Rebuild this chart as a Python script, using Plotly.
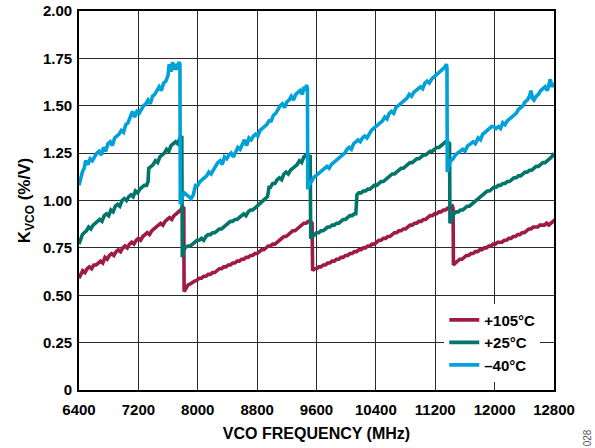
import plotly.graph_objects as go

# ---------------- data ----------------
freq_m40 = [6400, 6420, 6445, 6470, 6490, 6520, 6550, 6580, 6610, 6640, 6670, 6700, 6730, 6760, 6790,
            6820, 6850, 6880, 6910, 6940, 6970, 7000, 7030, 7060, 7090, 7120, 7150, 7180, 7210, 7240,
            7270, 7300, 7330, 7360, 7390, 7420, 7450, 7480, 7510, 7540, 7570, 7600, 7615, 7640, 7660,
            7680, 7700, 7720, 7745, 7760, 7765, 7790, 7820, 7850, 7880, 7910, 7940, 7970, 8000, 8030,
            8060, 8090, 8120, 8150, 8180, 8210, 8240, 8270, 8300, 8330, 8360, 8390, 8420, 8450, 8480,
            8510, 8540, 8570, 8600, 8630, 8660, 8690, 8720, 8750, 8780, 8810, 8840, 8870, 8900, 8930,
            8960, 8990, 9020, 9050, 9080, 9110, 9140, 9170, 9200, 9230, 9260, 9290, 9320, 9350, 9380,
            9410, 9430, 9450, 9465, 9478, 9482, 9500, 9530, 9560, 9590, 9620, 9650, 9680, 9710, 9740,
            9770, 9800, 9830, 9860, 9890, 9920, 9950, 9980, 10010, 10040, 10070, 10100, 10130, 10160,
            10190, 10220, 10250, 10280, 10310, 10340, 10370, 10400, 10430, 10460, 10490, 10520, 10550,
            10580, 10610, 10640, 10670, 10700, 10730, 10760, 10790, 10820, 10850, 10880, 10910, 10940,
            10970, 11000, 11030, 11060, 11090, 11120, 11150, 11180, 11210, 11240, 11270, 11300, 11320,
            11340, 11350, 11358, 11362, 11380, 11407, 11440, 11470, 11500, 11540, 11570, 11600, 11640,
            11680, 11710, 11740, 11780, 11810, 11840, 11870, 11900, 11930, 11960, 11990, 12020, 12050,
            12080, 12110, 12140, 12170, 12200, 12230, 12260, 12290, 12320, 12350, 12380, 12410, 12440,
            12470, 12490, 12510, 12530, 12560, 12590, 12620, 12650, 12680, 12710, 12730, 12750, 12770,
            12800]
kvco_m40 = [1.08, 1.12, 1.15, 1.17, 1.21, 1.19, 1.22, 1.21, 1.23, 1.25, 1.26, 1.24, 1.28, 1.26, 1.30,
            1.31, 1.29, 1.33, 1.34, 1.35, 1.37, 1.36, 1.40, 1.41, 1.44, 1.47, 1.44, 1.47, 1.46, 1.48,
            1.50, 1.51, 1.53, 1.51, 1.55, 1.56, 1.58, 1.60, 1.58, 1.62, 1.63, 1.66, 1.72, 1.68, 1.73,
            1.69, 1.72, 1.69, 1.73, 1.72, 0.98, 1.02, 1.04, 1.03, 1.02, 1.01, 1.03, 1.08, 1.08, 1.10,
            1.11, 1.12, 1.13, 1.15, 1.14, 1.16, 1.18, 1.20, 1.21, 1.19, 1.23, 1.22, 1.24, 1.25, 1.23,
            1.26, 1.28, 1.27, 1.30, 1.32, 1.29, 1.33, 1.32, 1.34, 1.35, 1.34, 1.37, 1.38, 1.39, 1.40,
            1.42, 1.42, 1.45, 1.46, 1.48, 1.50, 1.51, 1.49, 1.52, 1.53, 1.55, 1.53, 1.56, 1.57, 1.58,
            1.56, 1.60, 1.58, 1.61, 1.59, 1.06, 1.08, 1.10, 1.12, 1.13, 1.14, 1.15, 1.16, 1.17, 1.18,
            1.17, 1.19, 1.20, 1.21, 1.22, 1.23, 1.24, 1.25, 1.27, 1.28, 1.27, 1.30, 1.31, 1.32,
            1.31, 1.33, 1.34, 1.33, 1.35, 1.37, 1.38, 1.39, 1.40, 1.41, 1.42, 1.44, 1.43,
            1.46, 1.47, 1.46, 1.49, 1.50, 1.51, 1.52, 1.53, 1.54, 1.56, 1.55, 1.57, 1.58,
            1.59, 1.60, 1.59, 1.62, 1.63, 1.62, 1.64, 1.65, 1.66, 1.67, 1.68, 1.69, 1.70,
            1.71, 1.72, 1.70, 1.15, 1.18, 1.21, 1.22, 1.24, 1.25, 1.26, 1.27, 1.26, 1.29,
            1.30, 1.31, 1.30, 1.33, 1.32, 1.35, 1.36, 1.37, 1.38, 1.39, 1.39, 1.38, 1.39,
            1.38, 1.41, 1.40, 1.42, 1.43, 1.44, 1.45, 1.46, 1.48, 1.49, 1.50, 1.52, 1.53,
            1.55, 1.58, 1.54, 1.53, 1.55, 1.56, 1.58, 1.59, 1.60, 1.58, 1.62, 1.64, 1.60,
            1.62]

freq_p25 = [6400, 6420, 6445, 6470, 6500, 6530, 6560, 6590, 6620, 6650, 6680, 6710, 6740, 6770, 6800,
            6830, 6860, 6890, 6920, 6950, 6980, 7010, 7040, 7070, 7100, 7130, 7160, 7190, 7220, 7250,
            7280, 7310, 7330, 7340, 7370, 7400, 7430, 7460, 7490, 7520, 7550, 7580, 7610, 7640, 7670,
            7700, 7730, 7760, 7785, 7792, 7810, 7840, 7870, 7900, 7930, 7960, 7990, 8020, 8050, 8080,
            8110, 8140, 8170, 8200, 8230, 8260, 8290, 8320, 8350, 8380, 8410, 8440, 8470, 8500, 8530,
            8560, 8590, 8620, 8650, 8680, 8710, 8740, 8770, 8800, 8830, 8860, 8890, 8920, 8940, 8960,
            8980, 9010, 9040, 9070, 9100, 9130, 9160, 9190, 9220, 9250, 9280, 9310, 9340, 9370, 9400,
            9430, 9460, 9490, 9515, 9522, 9545, 9570, 9600, 9630, 9660, 9690, 9720, 9750, 9780, 9810,
            9840, 9870, 9900, 9930, 9960, 9990, 10020, 10050, 10080, 10110, 10130, 10145, 10170, 10200,
            10230, 10260, 10290, 10320, 10350, 10380, 10410, 10440, 10470, 10500, 10530, 10560, 10590,
            10620, 10650, 10680, 10710, 10740, 10770, 10800, 10830, 10860, 10890, 10920, 10950, 10980,
            11010, 11040, 11070, 11100, 11130, 11160, 11190, 11220, 11250, 11280, 11310, 11340, 11370,
            11393, 11398, 11420, 11450, 11480, 11510, 11540, 11570, 11600, 11630, 11660, 11690, 11720,
            11750, 11780, 11810, 11840, 11870, 11900, 11930, 11960, 11990, 12020, 12050, 12080, 12110,
            12140, 12170, 12200, 12230, 12260, 12290, 12320, 12350, 12380, 12410, 12440, 12470, 12500,
            12530, 12560, 12590, 12620, 12650, 12680, 12710, 12740, 12770, 12800]
kvco_p25 = [0.77, 0.80, 0.82, 0.83, 0.84, 0.86, 0.85, 0.87, 0.88, 0.89, 0.90, 0.89, 0.92, 0.93, 0.92,
            0.95, 0.94, 0.97, 0.98, 0.97, 1.00, 1.01, 1.00, 1.02, 1.03, 1.02, 1.05, 1.04, 1.06, 1.07,
            1.08, 1.08, 1.10, 1.17, 1.18, 1.19, 1.21, 1.20, 1.23, 1.24, 1.25, 1.27, 1.26, 1.29, 1.30,
            1.31, 1.30, 1.33, 1.34, 0.70, 0.74, 0.755, 0.76, 0.76, 0.77, 0.78, 0.79, 0.79, 0.80, 0.79,
            0.81, 0.82, 0.82, 0.83, 0.83, 0.84, 0.85, 0.85, 0.86, 0.87, 0.88, 0.89, 0.89, 0.90, 0.90,
            0.91, 0.92, 0.93, 0.92, 0.94, 0.95, 0.95, 0.96, 0.97, 0.98, 0.99, 1.00, 1.01, 1.02, 1.07,
            1.07, 1.09, 1.09, 1.11, 1.12, 1.11, 1.14, 1.15, 1.14, 1.16, 1.17, 1.18, 1.19, 1.21, 1.20,
            1.23, 1.24, 1.22, 1.24, 0.80, 0.81, 0.82, 0.83, 0.83, 0.84, 0.84, 0.85, 0.86, 0.86, 0.87,
            0.87, 0.88, 0.88, 0.89, 0.90, 0.90, 0.91, 0.92, 0.92, 0.93, 0.93, 1.03, 1.04, 1.04,
            1.05, 1.05, 1.06, 1.06, 1.07, 1.08, 1.08, 1.09, 1.10, 1.10, 1.11, 1.12, 1.13,
            1.14, 1.14, 1.15, 1.16, 1.17, 1.17, 1.18, 1.19, 1.20, 1.20, 1.21, 1.22, 1.22,
            1.23, 1.24, 1.24, 1.25, 1.26, 1.26, 1.27, 1.28, 1.28, 1.29, 1.30, 1.31, 1.31,
            1.30, 0.88, 0.90, 0.93, 0.94, 0.94, 0.95, 0.95, 0.96, 0.97, 0.97, 0.98, 0.99,
            1.00, 1.01, 1.02, 1.03, 1.04, 1.05, 1.05, 1.06, 1.07, 1.07, 1.08, 1.08, 1.09,
            1.09, 1.10, 1.10, 1.11, 1.12, 1.12, 1.13, 1.13, 1.14, 1.15, 1.15, 1.16, 1.16,
            1.17, 1.18, 1.18, 1.19, 1.20, 1.20, 1.21, 1.22, 1.23, 1.25]

freq_p105 = [6400, 6420, 6450, 6480, 6510, 6540, 6570, 6600, 6630, 6660, 6690, 6720, 6750, 6780, 6810,
             6840, 6870, 6900, 6930, 6960, 6990, 7020, 7050, 7080, 7110, 7140, 7170, 7200, 7230, 7260,
             7290, 7320, 7350, 7380, 7410, 7440, 7470, 7500, 7530, 7560, 7590, 7620, 7650, 7680, 7710,
             7740, 7770, 7795, 7812, 7816, 7840, 7870, 7900, 7930, 7960, 7990, 8020, 8050, 8080, 8110,
             8140, 8170, 8200, 8230, 8260, 8290, 8320, 8350, 8380, 8410, 8440, 8470, 8500, 8530, 8560,
             8590, 8620, 8650, 8680, 8710, 8740, 8770, 8800, 8830, 8860, 8890, 8920, 8950, 8980, 9010,
             9040, 9070, 9100, 9130, 9160, 9190, 9220, 9250, 9280, 9310, 9340, 9370, 9400, 9430, 9460,
             9490, 9520, 9540, 9548, 9570, 9600, 9630, 9660, 9690, 9720, 9750, 9780, 9810, 9840, 9870,
             9900, 9930, 9960, 9990, 10020, 10050, 10080, 10110, 10140, 10170, 10200, 10230, 10260,
             10290, 10320, 10350, 10380, 10410, 10440, 10470, 10500, 10530, 10560, 10590, 10620, 10650,
             10680, 10710, 10740, 10770, 10800, 10830, 10860, 10890, 10920, 10950, 10980, 11010, 11040,
             11070, 11100, 11130, 11160, 11190, 11220, 11250, 11280, 11310, 11340, 11370, 11400, 11430,
             11440, 11445, 11470, 11500, 11530, 11560, 11590, 11620, 11650, 11680, 11710, 11740, 11770,
             11800, 11830, 11860, 11890, 11920, 11950, 11980, 12010, 12040, 12070, 12100, 12130, 12160,
             12190, 12220, 12250, 12280, 12310, 12340, 12370, 12400, 12430, 12460, 12490, 12520, 12550,
             12580, 12610, 12640, 12670, 12700, 12730, 12760, 12790, 12800]
kvco_p105 = [0.59, 0.61, 0.63, 0.62, 0.64, 0.65, 0.64, 0.66, 0.66, 0.67, 0.68, 0.67, 0.70, 0.69, 0.71,
             0.72, 0.71, 0.73, 0.74, 0.73, 0.75, 0.76, 0.75, 0.77, 0.78, 0.77, 0.79, 0.80, 0.79, 0.81,
             0.82, 0.83, 0.82, 0.84, 0.85, 0.86, 0.87, 0.88, 0.87, 0.89, 0.90, 0.91, 0.90, 0.92, 0.93,
             0.94, 0.95, 0.965, 0.96, 0.52, 0.54, 0.555, 0.56, 0.57, 0.575, 0.58, 0.59, 0.59, 0.60, 0.60,
             0.61, 0.61, 0.62, 0.62, 0.63, 0.64, 0.64, 0.65, 0.65, 0.66, 0.66, 0.67, 0.67, 0.68, 0.68,
             0.69, 0.69, 0.70, 0.70, 0.71, 0.71, 0.72, 0.72, 0.73, 0.74, 0.74, 0.75, 0.76, 0.76, 0.77,
             0.77, 0.78, 0.79, 0.80, 0.81, 0.81, 0.82, 0.83, 0.84, 0.84, 0.85, 0.86, 0.87, 0.88, 0.88,
             0.89, 0.89, 0.88, 0.63, 0.64, 0.64, 0.65, 0.65, 0.66, 0.66, 0.67, 0.67, 0.68, 0.68, 0.69,
             0.69, 0.70, 0.70, 0.71, 0.71, 0.72, 0.72, 0.73, 0.73, 0.74, 0.74, 0.75, 0.75,
             0.76, 0.76, 0.77, 0.77, 0.78, 0.79, 0.79, 0.80, 0.80, 0.81, 0.81, 0.82, 0.83,
             0.83, 0.84, 0.84, 0.85, 0.85, 0.86, 0.87, 0.87, 0.88, 0.88, 0.89, 0.89, 0.90,
             0.90, 0.91, 0.92, 0.92, 0.93, 0.93, 0.94, 0.94, 0.95, 0.95, 0.96, 0.96, 0.97,
             0.96, 0.66, 0.67, 0.68, 0.69, 0.69, 0.70, 0.71, 0.71, 0.72, 0.72, 0.73, 0.73,
             0.74, 0.74, 0.75, 0.75, 0.76, 0.76, 0.77, 0.77, 0.78, 0.78, 0.78, 0.79, 0.79,
             0.80, 0.80, 0.81, 0.81, 0.82, 0.82, 0.83, 0.83, 0.84, 0.85, 0.85, 0.86, 0.86,
             0.86, 0.87, 0.87, 0.87, 0.88, 0.87, 0.88, 0.89, 0.88]

series_names = ["+105°C", "+25°C", "–40°C"]
series_colors = ["#9e1b47", "#00756a", "#00a0d8"]

x_ticks = [6400, 7200, 8000, 8800, 9600, 10400, 11200, 12000, 12800]
x_tick_text = ["6400", "7200", "8000", "8800", "9600", "10400", "11200", "12000", "12800"]
y_ticks = [0, 0.25, 0.50, 0.75, 1.00, 1.25, 1.50, 1.75, 2.00]
y_tick_text = ["0", "0.25", "0.50", "0.75", "1.00", "1.25", "1.50", "1.75", "2.00"]

# ---------------- figure ----------------
FONT = "Liberation Sans, Arial, sans-serif"
fig = go.Figure()
for name, color, xs, ys in zip(series_names, series_colors,
                               [freq_p105, freq_p25, freq_m40],
                               [kvco_p105, kvco_p25, kvco_m40]):
    fig.add_trace(go.Scatter(x=xs, y=ys, mode="lines", name=name,
                             line=dict(color=color, width=3.6)))

tickfont = dict(family=FONT, size=15, color="#000000", weight="bold")
axis_common = dict(showgrid=True, gridcolor="#2a2a2a", gridwidth=1,
                   showline=True, linecolor="#000000", linewidth=1.6, mirror=True,
                   zeroline=False, ticks="", tickfont=tickfont, automargin=False)

fig.update_xaxes(range=[6400, 12800], tickvals=x_ticks, ticktext=x_tick_text,
                 ticklabelstandoff=5,
                 title=dict(text="VCO FREQUENCY (MHz)",
                            font=dict(family=FONT, size=16, color="#000000", weight="bold"),
                            standoff=11),
                 **axis_common)
fig.update_yaxes(range=[0, 2.0], tickvals=y_ticks, ticktext=y_tick_text,
                 ticklabelstandoff=2,
                 title=dict(text="K<sub>VCO</sub> (%/V)",
                            font=dict(family=FONT, size=17, color="#000000", weight="bold"),
                            standoff=8),
                 **axis_common)

fig.update_layout(
    width=595, height=448,
    margin=dict(l=79, r=41, t=11, b=58),
    paper_bgcolor="white", plot_bgcolor="white",
    font=dict(family=FONT, size=15, color="#000000"),
    showlegend=True,
    legend=dict(x=0.769, y=0.228, xanchor="left", yanchor="top",
                bgcolor="white", borderwidth=0,
                font=dict(family=FONT, size=15, color="#000000", weight="bold"),
                itemwidth=30, tracegroupgap=0),
    annotations=[dict(text="028", xref="paper", yref="paper", x=1.085, y=-0.125,
                      xanchor="right", yanchor="middle", showarrow=False, textangle=-90,
                      font=dict(family=FONT, size=10, color="#555555"))],
)

fig.write_html("out.html", config={"displayModeBar": False},
               post_script="document.body.style.margin='0';")
